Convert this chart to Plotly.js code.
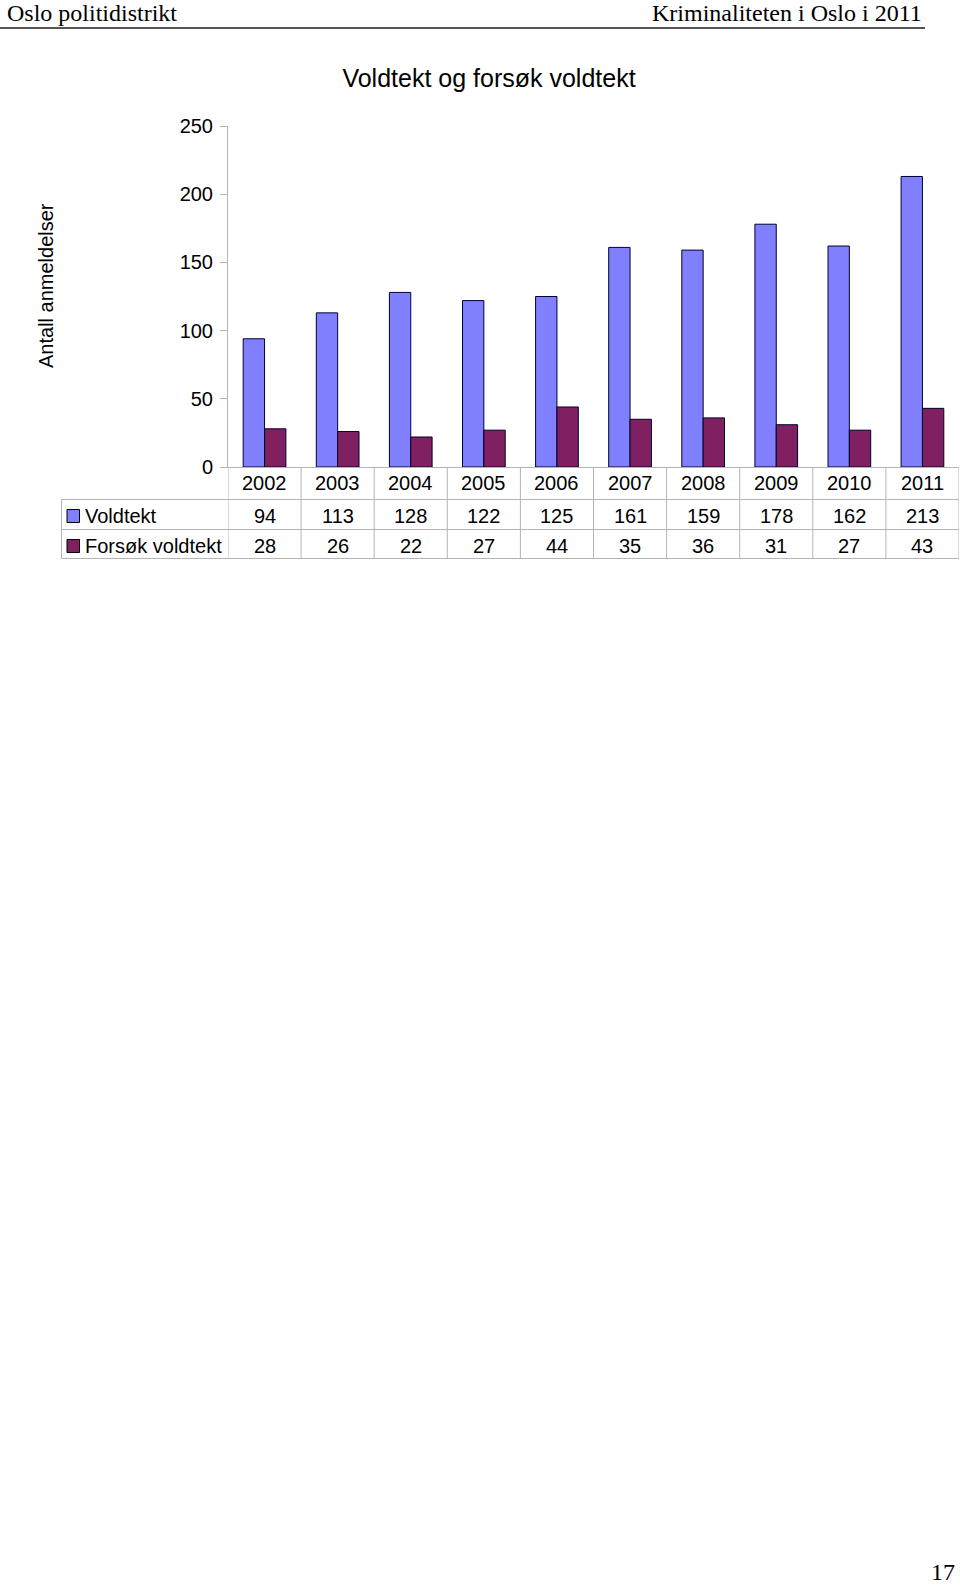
<!DOCTYPE html>
<html>
<head>
<meta charset="utf-8">
<script src="https://cdn.plot.ly/plotly-3.0.1.min.js"></script>
<style>html,body{margin:0;padding:0;background:#fff;}#chart{width:960px;height:1587px;}</style>
</head>
<body>
<div id="chart"></div>
<script>
// ---- data ----
const years = ['2002','2003','2004','2005','2006','2007','2008','2009','2010','2011'];
const voldtekt = [94,113,128,122,125,161,159,178,162,213];
const forsokVoldtekt = [28,26,22,27,44,35,36,31,27,43];
const seriesNames = ['Voldtekt','Forsøk voldtekt'];
const yTicks = [0,50,100,150,200,250];
const chartTitle = 'Voldtekt og forsøk voldtekt';
const yTitle = 'Antall anmeldelser';
const headerLeft = 'Oslo politidistrikt';
const headerRight = 'Kriminaliteten i Oslo i 2011';
const pageNumber = '17';

// ---- geometry ----
const W = 960, H = 1587;
const L = 228, R = 959, T = 126, B = 467;
const px2x = px => (px - L) / (R - L);
const py2y = py => (B - py) / (B - T);
const SANS = 'Liberation Sans, Arial, sans-serif';
const SERIF = 'Liberation Serif, Times New Roman, serif';
const colors = ['#8080FF', '#802060'];
const gridCol = '#b4b4b4';

const seriesValues = [voldtekt, forsokVoldtekt];
const traces = seriesValues.map((vals, i) => ({
  type: 'bar', x: years, y: vals, name: seriesNames[i],
  marker: {color: colors[i], line: {color: '#000030', width: 1}},
  hoverinfo: 'x+y+name'
}));

const annotations = [];
const shapes = [];
// table: year labels row (x positions as category index on the x axis)
const rowY = [483, 516, 546];
years.forEach((yr, j) => {
  annotations.push({xref: 'x', yref: 'paper', x: j, y: py2y(rowY[0]), text: yr, showarrow: false,
    xanchor: 'center', yanchor: 'middle', font: {family: SANS, size: 20, color: '#000'}});
  seriesValues.forEach((vals, i) => {
    annotations.push({xref: 'x', yref: 'paper', x: j, y: py2y(rowY[i + 1]), text: String(vals[j]), showarrow: false,
      xanchor: 'center', yanchor: 'middle', font: {family: SANS, size: 20, color: '#000'}});
  });
});
// legend labels in table
seriesNames.forEach((nm, i) => {
  annotations.push({xref: 'paper', yref: 'paper', x: px2x(83), y: py2y(rowY[i + 1]), text: nm, showarrow: false,
    xanchor: 'left', yanchor: 'middle', font: {family: SANS, size: 20, color: '#000'}});
  shapes.push({type: 'rect', xref: 'paper', yref: 'paper', x0: px2x(67), x1: px2x(79.5),
    y0: py2y(rowY[i + 1] - 6.5), y1: py2y(rowY[i + 1] + 6.5),
    fillcolor: colors[i], line: {color: '#000', width: 1}});
});
// table grid
for (let k = 0; k <= years.length; k++) {
  shapes.push({type: 'line', xref: 'x', yref: 'paper', x0: k - 0.5, x1: k - 0.5,
    y0: py2y(467), y1: py2y(558.5), line: {color: gridCol, width: 1}});
}
[499.5, 529.5, 558.5].forEach(py => {
  shapes.push({type: 'line', xref: 'paper', yref: 'paper', x0: px2x(61.5), x1: 1,
    y0: py2y(py), y1: py2y(py), line: {color: gridCol, width: 1}});
});
shapes.push({type: 'line', xref: 'paper', yref: 'paper', x0: px2x(61.5), x1: px2x(61.5),
  y0: py2y(499.5), y1: py2y(558.5), line: {color: gridCol, width: 1}});

// y title
annotations.push({xref: 'paper', yref: 'paper', x: px2x(46), y: py2y(286), text: yTitle, textangle: -90,
  showarrow: false, xanchor: 'center', yanchor: 'middle', font: {family: SANS, size: 20, color: '#000'}});

// page header / footer
annotations.push({xref: 'paper', yref: 'paper', x: px2x(5), y: py2y(13), text: headerLeft, showarrow: false,
  xanchor: 'left', yanchor: 'middle', font: {family: SERIF, size: 24, color: '#000'}});
annotations.push({xref: 'paper', yref: 'paper', x: px2x(924), y: py2y(13), text: headerRight, showarrow: false,
  xanchor: 'right', yanchor: 'middle', font: {family: SERIF, size: 24, color: '#000'}});
annotations.push({xref: 'paper', yref: 'paper', x: px2x(957), y: py2y(1572), text: pageNumber, showarrow: false,
  xanchor: 'right', yanchor: 'middle', font: {family: SERIF, size: 24, color: '#000'}});
shapes.push({type: 'line', xref: 'paper', yref: 'paper', x0: px2x(0), x1: px2x(925),
  y0: py2y(28), y1: py2y(28), line: {color: '#555', width: 2}});

const layout = {
  width: W, height: H,
  margin: {l: L, r: W - R, t: T, b: H - B, pad: 0},
  paper_bgcolor: '#fff', plot_bgcolor: '#fff',
  showlegend: false,
  barmode: 'group', bargap: 0.416, bargroupgap: 0,
  title: {text: chartTitle, x: 489 / W, xanchor: 'center', y: 1 - 78 / H, yanchor: 'middle',
    font: {family: SANS, size: 25, color: '#000'}},
  xaxis: {type: 'category', range: [-0.5, years.length - 0.5], autorange: false,
    showticklabels: false, ticks: '', showline: true, linecolor: gridCol, linewidth: 1,
    showgrid: false, zeroline: false, fixedrange: true},
  yaxis: {range: [0, 250], autorange: false, tickvals: yTicks, ticks: 'outside', ticklen: 7, tickcolor: gridCol, tickwidth: 1,
    showline: true, linecolor: gridCol, linewidth: 1, showgrid: false, zeroline: false,
    tickfont: {family: SANS, size: 20, color: '#000'}, ticklabelstandoff: 3, fixedrange: true},
  annotations: annotations,
  shapes: shapes,
  font: {family: SANS}
};

Plotly.newPlot('chart', traces, layout, {displayModeBar: false, staticPlot: true});
</script>
</body>
</html>
